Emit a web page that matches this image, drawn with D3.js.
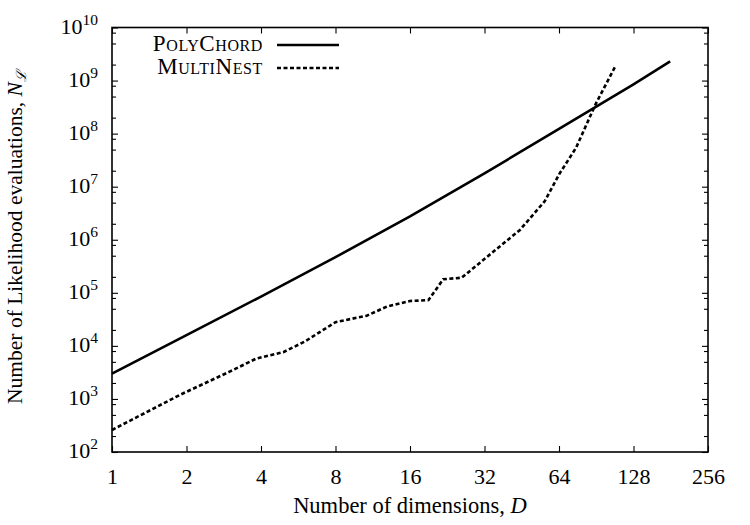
<!DOCTYPE html>
<html>
<head>
<meta charset="utf-8">
<script src="https://cdn.jsdelivr.net/npm/d3@7"></script>
<style>
  body { margin: 0; background: #fff; }
  text { font-family: "Liberation Serif", "DejaVu Serif", serif; fill: #000; }
</style>
</head>
<body>
<div class="chart"></div>
<script>
// dimensions D and likelihood evaluations
var polyDims  = [1, 2, 4, 8, 16, 32, 64, 128, 180];
var polyEvals = [3.0e3, 1.6e4, 8.5e4, 4.7e5, 2.75e6, 1.78e7, 1.23e8, 8.5e8, 2.3e9];

var multiDims  = [1, 1.88, 3, 3.84, 4.92, 6, 8, 10.7, 12.9, 16, 19, 21.8, 25.9, 34.8, 44.5, 56, 64.5, 75, 90, 108];
var multiEvals = [2.6e2, 1.19e3, 3.3e3, 5.8e3, 7.6e3, 1.2e4, 2.8e4, 3.7e4, 5.5e4, 7.0e4, 7.3e4, 1.8e5, 1.93e5, 6.0e5, 1.53e6, 5.3e6, 1.8e7, 5.4e7, 3.6e8, 1.85e9];

var xTicks = [1, 2, 4, 8, 16, 32, 64, 128, 256];
var yPowers = [2, 3, 4, 5, 6, 7, 8, 9, 10];
var yMinorMult = [2, 5, 8];

var seriesNames = ["PolyChord", "MultiNest"];

var w = 750, h = 525;
var plotL = 112, plotR = 708, plotT = 27.5, plotB = 452;

var svg = d3.select('.chart')
	.append('svg')
	.attr('width', w)
	.attr('height', h);

var x = d3.scaleLog().base(2).domain([1, 256]).range([plotL, plotR]);
var y = d3.scaleLog().domain([1e2, 1e10]).range([plotB, plotT]);

// x ticks, bottom and top, pointing in
var xAxisB = d3.axisBottom(x).tickValues(xTicks).tickSize(-6).tickPadding(16)
	.tickFormat(function(d){ return d; });
svg.append('g').attr('class', 'xaxis')
	.attr('transform', 'translate(0,' + plotB + ')')
	.call(xAxisB);
var xAxisT = d3.axisTop(x).tickValues(xTicks).tickSize(-6).tickFormat('');
svg.append('g')
	.attr('transform', 'translate(0,' + plotT + ')')
	.call(xAxisT);

// y ticks, left and right
var majors = yPowers.map(function(p){ return Math.pow(10, p); });
var minors = [];
yPowers.slice(0, -1).forEach(function(p){
	yMinorMult.forEach(function(m){ minors.push(m * Math.pow(10, p)); });
});

svg.append('g').attr('transform', 'translate(' + plotL + ',0)')
	.call(d3.axisLeft(y).tickValues(majors).tickSize(-6).tickFormat(''));
svg.append('g').attr('transform', 'translate(' + plotL + ',0)')
	.call(d3.axisLeft(y).tickValues(minors).tickSize(-4).tickFormat(''));
svg.append('g').attr('transform', 'translate(' + plotR + ',0)')
	.call(d3.axisRight(y).tickValues(majors).tickSize(-6).tickFormat(''));
svg.append('g').attr('transform', 'translate(' + plotR + ',0)')
	.call(d3.axisRight(y).tickValues(minors).tickSize(-4).tickFormat(''));

svg.selectAll('.domain').remove();
svg.selectAll('.tick line').attr('stroke', '#000').attr('stroke-width', 1.1);
svg.selectAll('.xaxis text')
	.attr('font-family', '"Liberation Serif", serif')
	.attr('font-size', 22)
	.attr('fill', '#000');

// frame
svg.append('rect')
	.attr('x', plotL).attr('y', plotT)
	.attr('width', plotR - plotL).attr('height', plotB - plotT)
	.attr('fill', 'none').attr('stroke', '#000').attr('stroke-width', 1.6);

// y tick labels 10^n
var ylab = svg.selectAll('.ylab')
	.data(yPowers)
	.enter()
	.append('text')
	.attr('class', 'ylab')
	.attr('x', 98)
	.attr('y', function(d){ return y(Math.pow(10, d)) + 6; })
	.attr('text-anchor', 'end')
	.attr('font-size', 22);
ylab.append('tspan').text('10');
ylab.append('tspan')
	.attr('dy', -9)
	.attr('font-size', 15.5)
	.text(function(d){ return d; });

// lines
var line = d3.line()
	.x(function(d){ return x(d[0]); })
	.y(function(d){ return y(d[1]); });

svg.append('path')
	.datum(d3.zip(polyDims, polyEvals))
	.attr('d', line)
	.attr('fill', 'none')
	.attr('stroke', '#000')
	.attr('stroke-width', 2.6);

svg.append('path')
	.datum(d3.zip(multiDims, multiEvals))
	.attr('d', line)
	.attr('fill', 'none')
	.attr('stroke', '#000')
	.attr('stroke-width', 2.6)
	.attr('stroke-dasharray', '4,2.5');

// legend
var legend = svg.append('g');
seriesNames.forEach(function(name, i){
	var ly = 45 + i * 23;
	legend.append('text')
		.attr('x', 263)
		.attr('y', ly + 6)
		.attr('text-anchor', 'end')
		.attr('font-size', 23)
		.style('font-variant', 'small-caps')
		.style('letter-spacing', '0.6px')
		.text(name);
	legend.append('line')
		.attr('x1', 277).attr('x2', 339)
		.attr('y1', ly).attr('y2', ly)
		.attr('stroke', '#000')
		.attr('stroke-width', 2.6)
		.attr('stroke-dasharray', i === 1 ? '4,2.5' : null);
});

// axis titles
var xt = svg.append('text')
	.attr('x', 410)
	.attr('y', 513)
	.attr('text-anchor', 'middle')
	.attr('font-size', 22.5);
xt.append('tspan').text('Number of dimensions, ');
xt.append('tspan').attr('font-style', 'italic').text('D');

var yt = svg.append('text')
	.attr('transform', 'translate(22,' + 237 + ') rotate(-90)')
	.attr('text-anchor', 'middle')
	.attr('font-size', 21.5);
yt.append('tspan').text('Number of Likelihood evaluations, ');
yt.append('tspan').attr('font-style', 'italic').text('N');
yt.append('tspan').attr('dy', 4).attr('font-size', 14).attr('font-style', 'italic').text('\u2112');
</script>
</body>
</html>
